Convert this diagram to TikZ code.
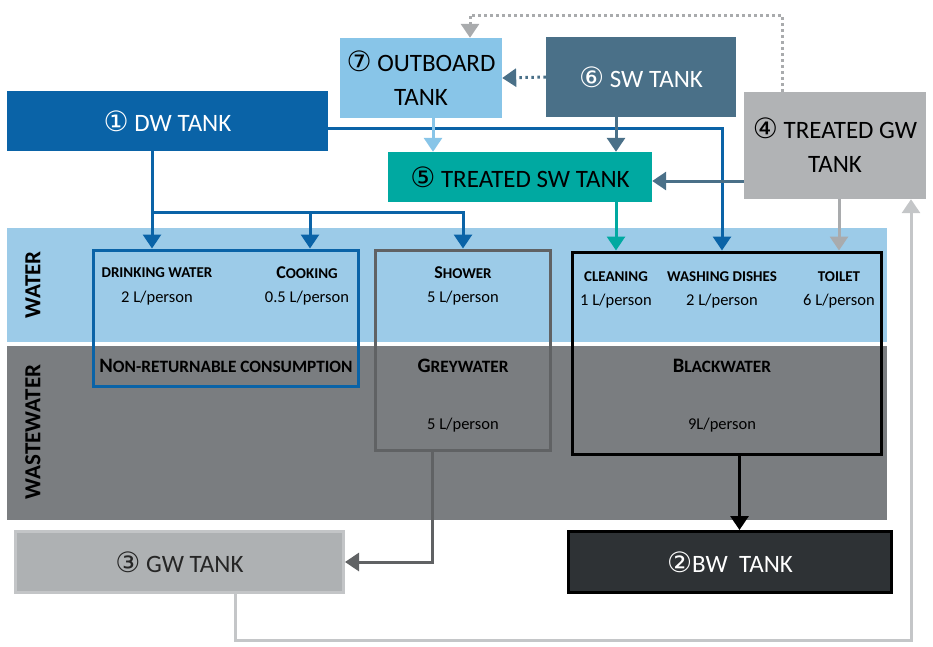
\documentclass[tikz,border=0pt]{standalone}
\usepackage{fontspec}
\setmainfont{Carlito}
\newfontfamily\circfont{DejaVu Sans}
\usetikzlibrary{arrows.meta}

\definecolor{dwblue}{HTML}{0A63A7}
\definecolor{outblue}{HTML}{88C5E8}
\definecolor{swblue}{HTML}{4A7088}
\definecolor{tswteal}{HTML}{00A9A1}
\definecolor{tgwgrey}{HTML}{B1B3B5}
\definecolor{waterband}{HTML}{9CCBE8}
\definecolor{wasteband}{HTML}{7A7D80}
\definecolor{gwgrey}{HTML}{AEB1B3}
\definecolor{gwedge}{HTML}{C3C5C7}
\definecolor{bwdark}{HTML}{2E3235}
\definecolor{greyline}{HTML}{606264}
\definecolor{loopgrey}{HTML}{C4C6C8}
\definecolor{toiletgrey}{HTML}{A9ABAD}

\newcommand{\cnum}[1]{{\circfont\fontsize{28}{32}\selectfont #1}}
\newcommand{\itemsc}[2]{\textbf{{\fontsize{18}{20}\selectfont #1}{\fontsize{15}{17}\selectfont #2}}}
\newcommand{\headsc}[2]{\textbf{{\fontsize{20.5}{22}\selectfont #1}{\fontsize{17.3}{19}\selectfont #2}}}

\begin{document}
\begin{tikzpicture}[
    x=1pt, y=-1pt,
    tank/.style={rectangle, inner sep=0pt, align=center, font=\fontsize{25}{34}\selectfont},
    usebox/.style={rectangle, draw, line width=3pt, inner sep=0pt},
    usetext/.style={inner sep=0pt, align=center},
    amount/.style={inner sep=0pt, font=\fontsize{16.5}{19}\selectfont},
    band/.style={rotate=90, inner sep=0pt, font=\bfseries\fontsize{23}{26}\selectfont},
    pipe/.style={-{Triangle[width=18pt,length=14pt]}, line width=3pt},
    dotpipe/.style={pipe, dash pattern=on 2.5pt off 3.5pt}
]
\useasboundingbox (0,0) rectangle (933,646);

% Bands
\fill[waterband] (7,228) rectangle (887,342);
\fill[wasteband] (7,346) rectangle (887,520);
\node[band] (waterlbl) at (33,285) {WATER};
\node[band] (wastelbl) at (33,432) {WASTEWATER};

% Tanks
\node[tank, fill=dwblue, text=white, minimum width=321pt, minimum height=60pt] (dw) at (167.5,121) {\cnum{①} DW TANK};
\node[tank, fill=outblue, minimum width=162pt, minimum height=80pt] (out) at (421,78) {\cnum{⑦} OUTBOARD\\TANK};
\node[tank, fill=swblue, text=white, minimum width=190pt, minimum height=80pt] (sw) at (641,77) {\cnum{⑥} SW TANK};
\node[tank, fill=tgwgrey, minimum width=182pt, minimum height=107pt] (tgw) at (835,145.5) {\cnum{④} TREATED GW\\TANK};
\node[tank, fill=tswteal, minimum width=264pt, minimum height=50pt] (tsw) at (520,177) {\cnum{⑤} TREATED SW TANK};
\node[tank, fill=gwgrey, draw=gwedge, line width=3pt, text=black!85, minimum width=328pt, minimum height=61pt] (gw) at (179.5,562) {\cnum{③} GW TANK};
\node[tank, fill=bwdark, draw=black, line width=3pt, text=white, minimum width=323pt, minimum height=61pt] (bw) at (730,562) {\cnum{②}BW\ \ TANK};

% Use boxes
\node[usebox, draw=dwblue, minimum width=265pt, minimum height=136pt] (nr) at (225.5,318) {};
\node[usebox, draw=greyline, minimum width=175pt, minimum height=200pt] (gwb) at (462.5,350) {};
\node[usebox, draw=black, minimum width=309pt, minimum height=202pt] (bwb) at (726.5,353) {};

% Uses
\node[usetext] (drink) at (157,273) {\itemsc{}{DRINKING WATER}};
\node[amount] (drinkamt) at (157,298) {2 L/person};
\node[usetext] (cook) at (307,273) {\itemsc{C}{OOKING}};
\node[amount] (cookamt) at (307,298) {0.5 L/person};
\node[usetext] (nrlbl) at (226,366) {\headsc{N}{ON-RETURNABLE CONSUMPTION}};
\node[usetext] (shower) at (463,273) {\itemsc{S}{HOWER}};
\node[amount] (showeramt) at (463,298) {5 L/person};
\node[usetext] (greylbl) at (463,366) {\headsc{G}{REYWATER}};
\node[amount] (greyamt) at (463,425) {5 L/person};
\node[usetext] (clean) at (616,277) {\itemsc{}{CLEANING}};
\node[amount] (cleanamt) at (616,301) {1 L/person};
\node[usetext] (wash) at (722,277) {\itemsc{}{WASHING DISHES}};
\node[amount] (washamt) at (722,301) {2 L/person};
\node[usetext] (toilet) at (839,277) {\itemsc{}{TOILET}};
\node[amount] (toiletamt) at (839,301) {6 L/person};
\node[usetext] (blacklbl) at (722,366) {\headsc{B}{LACKWATER}};
\node[amount] (blackamt) at (722,425) {9L/person};

% Arrows
\coordinate (split) at (152,212);
\draw[pipe, dwblue] ([yshift=-7pt]dw.east) -| (bwb.north -| wash);
\draw[pipe, dwblue] (dw.south -| split) -- (nr.north -| split);
\draw[pipe, dwblue] (split) -| ([xshift=3pt]nr.north -| cook);
\draw[pipe, dwblue] (split) -| (gwb.north -| shower);
\draw[pipe, outblue] ([xshift=12pt]out.south) -- ([xshift=12pt]out.south |- tsw.north);
\draw[pipe, swblue] (sw.south -| clean) -- (tsw.north -| clean);
\draw[pipe, tswteal] (tsw.south -| clean) -- (bwb.north -| clean);
\draw[pipe, swblue] ([yshift=-4pt]tgw.west |- tsw.east) -- ([yshift=-4pt]tsw.east);
\draw[pipe, toiletgrey] (tgw.south -| toilet) -- (bwb.north -| toilet);
\draw[dotpipe, swblue] (sw.west) -- (out.east);
\coordinate (overtop) at (782,15);
\draw[dotpipe, toiletgrey] (tgw.north -| overtop) -- (overtop) -| ([xshift=49pt]out.north);
\draw[pipe, greyline] ([xshift=-30pt]gwb.south) |- (gw.east);
\draw[pipe, black] ([xshift=13pt]bwb.south) -- ([xshift=13pt]bwb.south |- bw.north);
\coordinate (back) at (911,640);
\draw[pipe, loopgrey] ([xshift=56pt]gw.south) |- (back) -- (tgw.south -| back);

\end{tikzpicture}
\end{document}
